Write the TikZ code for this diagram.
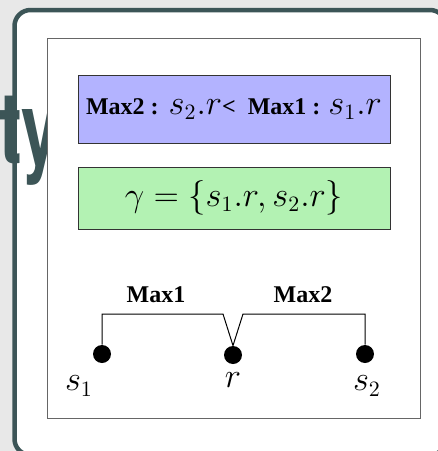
\documentclass[tikz,border=0pt]{standalone}
\usepackage{amsmath,amssymb}
\usepackage{fontspec}
\newfontfamily\slidefont{TeX Gyre Heros}
\newfontfamily\tagfont{Liberation Serif}
\usepackage{tikz}
\usetikzlibrary{positioning}
\definecolor{slateteal}{RGB}{60,85,87}
\definecolor{orderblue}{RGB}{179,179,255}
\definecolor{setgreen}{RGB}{179,242,179}
\definecolor{pagegray}{RGB}{232,232,232}
\newcommand\lgm[1]{{\fontsize{16}{19}\selectfont$#1$}}
\newcommand\tg[1]{{\tagfont\bfseries\fontsize{12}{14}\selectfont #1}}

\begin{document}
\begin{tikzpicture}[x=0.5pt,y=-0.5pt,
  statebox/.style={draw=black!80,line width=0.5pt,minimum width=156pt,inner sep=0pt},
  dot/.style={circle,fill=black,minimum size=9pt,inner sep=0pt},
  bracket/.style={line width=0.5pt}]
  \useasboundingbox (0,0) rectangle (438,451);
  % slide behind the picture
  \fill[pagegray] (0,0) rectangle (438,451);
  \draw[slateteal,fill=white,line width=2.25pt,rounded corners=8pt] (14.5,10) rectangle (446,455);
  \node[anchor=base west,inner sep=0pt,xscale=0.68,transform shape,
    font=\slidefont\bfseries\fontsize{50}{54}\selectfont,slateteal] (word) at (-1,163) {ty};
  \draw[black!60,fill=white,line width=0.5pt] (47,38) rectangle (420,418);
  % the two boxes
  \node[statebox,fill=orderblue,minimum height=34pt] (order) at (234,109)
    {\tg{Max2 :}\hspace{5pt}\lgm{s_2.r}\tg{<}\hspace{6pt}\tg{Max1 :}\hspace{4pt}\lgm{s_1.r}};
  \node[statebox,fill=setgreen,minimum height=31pt] (gamma) at (234,198)
    {\lgm{\gamma=\{s_1.r,s_2.r\}}\hspace{6pt}};
  % the three points
  \node[dot] (s1) at (102,354) {};
  \node[dot] (r) at (233,355) {};
  \node[dot] (s2) at (365,354) {};
  \node at (79,386) (s1lab) {\lgm{s_1}};
  \node at (233,380) (rlab) {\lgm{r}};
  \node at (367,386) (s2lab) {\lgm{s_2}};
  % brackets from r to each side
  \coordinate (k1) at (223,314);
  \coordinate (k2) at (243,314);
  \draw[bracket] (s1) |- (k1) -- (r.north);
  \draw[bracket] (s2) |- (k2) -- (r.north);
  \node (max1) at (156,295) {\tg{Max1}};
  \node (max2) at (303,295) {\tg{Max2}};
\end{tikzpicture}
\end{document}
